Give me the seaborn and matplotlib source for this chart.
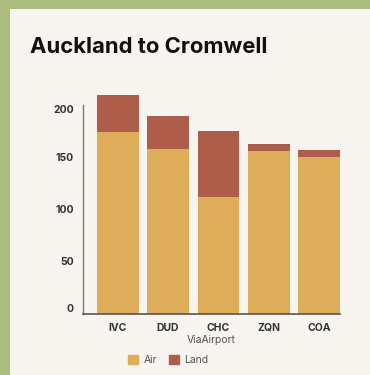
import matplotlib
matplotlib.use("Agg")
import matplotlib.pyplot as plt
import matplotlib.patches as mpatches
import matplotlib.transforms as mtransforms
import seaborn as sns
import pandas as pd
import numpy as np

airports = ["IVC", "DUD", "CHC", "ZQN", "COA"]
air = [173.5, 157.3, 111.5, 155.4, 149.7]
land = [35.4, 31.6, 63.1, 6.7, 6.7]

df = pd.DataFrame({"ViaAirport": airports, "Air": air, "Land": land})
df["Total"] = df["Air"] + df["Land"]

AIR_C = "#DEAD5A"
LAND_C = "#AD5D4A"
BG = "#F8F5F0"
GREEN = "#ABBD7E"

sns.set_theme(style="white")
plt.rcParams["font.family"] = ["Inter", "DejaVu Sans"]

W, H = 370, 375
fig = plt.figure(figsize=(W / 100, H / 100), dpi=100, facecolor=GREEN)
fig.patches.append(mpatches.Rectangle((10 / W, 0), 1, (H - 9) / H,
                                      transform=fig.transFigure,
                                      facecolor=BG, edgecolor="none", zorder=-10))

# axes box in pixel coords
x0, x1 = 83, 340
y_zero, px_per_unit = 313.5, 1.045
ymax = 212
top = y_zero - ymax * px_per_unit
ax = fig.add_axes([x0 / W, (H - y_zero) / H, (x1 - x0) / W, (y_zero - top) / H])
ax.set_facecolor("none")
ax.set_zorder(5)

# stacked bars: total (land colour) behind, air in front
sns.barplot(data=df, x="ViaAirport", y="Total", color=LAND_C, width=0.83,
            saturation=1, linewidth=0, edgecolor="none", ax=ax)
sns.barplot(data=df, x="ViaAirport", y="Air", color=AIR_C, width=0.83,
            saturation=1, linewidth=0, edgecolor="none", ax=ax)

ax.set_xlim(-0.69, 4.415)
ax.set_ylim(0, ymax)
ax.set_yticks([0, 50, 100, 150, 200])
ax.spines["left"].set_bounds(0, 200)
for s in ["top", "right"]:
    ax.spines[s].set_visible(False)
ax.spines["left"].set_color("#7a7a7a")
ax.spines["left"].set_linewidth(1.0)
ax.spines["bottom"].set_color("#555555")
ax.spines["bottom"].set_linewidth(1.2)

ax.tick_params(axis="y", length=0, pad=6.5, labelsize=7.5, labelcolor="#333333")
ax.tick_params(axis="x", length=0, pad=6.5, labelsize=7.5, labelcolor="#333333")
for lab in ax.get_yticklabels() + ax.get_xticklabels():
    lab.set_fontweight("bold")
# flush end labels inside the axis extent
ylabs = ax.get_yticklabels()
ylabs[0].set_verticalalignment("bottom")
ylabs[-1].set_verticalalignment("top")

ax.set_xlabel("ViaAirport", fontsize=7.5, color="#555555", labelpad=2)
ax.set_ylabel("")

fig.text(30 / W, 1 - 53 / H, "Auckland to Cromwell", fontsize=15.9,
         fontweight="bold", color="#111111", ha="left", va="baseline")

handles = [mpatches.Patch(color=AIR_C, label="Air"),
           mpatches.Patch(color=LAND_C, label="Land")]
fig.legend(handles=handles, loc="center left", bbox_to_anchor=(119 / W, 1 - 360 / H),
           ncol=2, frameon=False, fontsize=7.5, handlelength=0.95, handleheight=0.95,
           handletextpad=0.5, columnspacing=1.2, labelcolor="#555555")

fig.savefig("out.png", dpi=100, facecolor=GREEN)
